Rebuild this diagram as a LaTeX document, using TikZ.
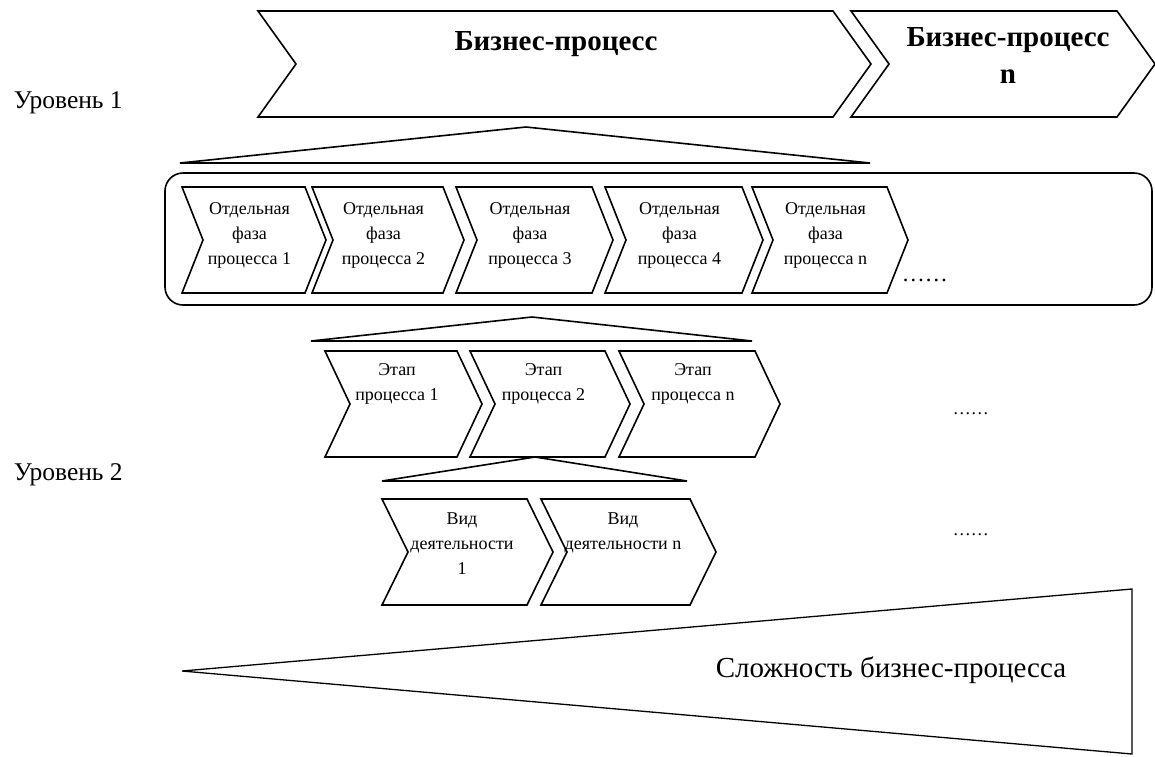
\documentclass[tikz,border=0pt]{standalone}
\usepackage{fontspec}
\setmainfont{Liberation Serif}

\tikzset{
  lbl/.style={inner sep=0pt, align=center, execute at begin node=\strut, execute at end node=\strut},
  titletext/.style={lbl, font=\bfseries\fontsize{29}{37}\selectfont},
  chevtext/.style={lbl, font=\fontsize{18}{25}\selectfont},
  levtext/.style={inner sep=0pt, font=\fontsize{25.5}{28}\selectfont},
  dots/.style={inner sep=0pt, anchor=base west},
}

\begin{document}
\begin{tikzpicture}[x=1pt, y=-1pt, line width=1.6pt]
\useasboundingbox (0,0) rectangle (1155,756);

% level captions
\node[levtext, anchor=base west] (lev1) at (13,108) {Уровень 1};
\node[levtext, anchor=base west] (lev2) at (13,480) {Уровень 2};

% business processes, top row (left edge / right edge / notch depth)
\foreach \l/\r/\d in {258/833/38, 851/1117/38}
  \draw (\l,11) -- (\r,11) -- ++(\d,53) -- (\r,117) -- (\l,117) -- ++(\d,-53) -- cycle;
\node[titletext] (bp) at (556,42.6) {Бизнес-процесс};
\node[titletext] (bpn) at (1008,61) {Бизнес-процесс\\n};

% fan from the process down to its phases
\draw (526,127) -- (870,163) -- (180,163) -- cycle;

% frame round the phases
\draw[rounded corners=18pt] (165,173) rectangle (1152,305);

% phases
\foreach \l/\r/\n in {182/305/1, 312/443/2, 456/592/3, 605/742/4, 752/887/n} {
  \draw (\l,187) -- (\r,187) -- ++(21,53) -- (\r,293) -- (\l,293) -- ++(21,-53) -- cycle;
  \node[chevtext] (phase\n) at ({(\l+\r)/2+6},237) {Отдельная\\фаза\\процесса \n};
}
\node[dots, font=\fontsize{23}{25}\selectfont] (more1) at (901,281) {……};

% stages
\draw (532,317) -- (752,341) -- (311,341) -- cycle;
\foreach \l/\r/\n in {325/457/1, 470/605/2, 619/755/n} {
  \draw (\l,351) -- (\r,351) -- ++(25,53) -- (\r,457) -- (\l,457) -- ++(25,-53) -- cycle;
  \node[chevtext] (stage\n) at ({(\l+\r)/2+6},386) {Этап\\процесса \n};
}
\node[dots, font=\fontsize{18}{25}\selectfont] (more2) at (952,414) {……};

% activities
\draw (535,457) -- (687,481) -- (382,481) -- cycle;
\foreach \l/\r in {382/527, 541/690}
  \draw (\l,499) -- (\r,499) -- ++(26,53) -- (\r,605) -- (\l,605) -- ++(26,-53) -- cycle;
\node[chevtext] (act1) at (462,547) {Вид\\деятельности\\1};
\node[chevtext] (actn) at (623,534.5) {Вид\\деятельности n};
\node[dots, font=\fontsize{18}{25}\selectfont] (more3) at (952,535) {……};

% complexity wedge
\draw[line width=1.3pt] (182,671) -- (1132,589) -- (1132,754) -- cycle;
\node[levtext, font=\fontsize{29}{32}\selectfont, anchor=base west] (cplx) at (715,677) {Сложность бизнес-процесса};

\end{tikzpicture}
\end{document}
